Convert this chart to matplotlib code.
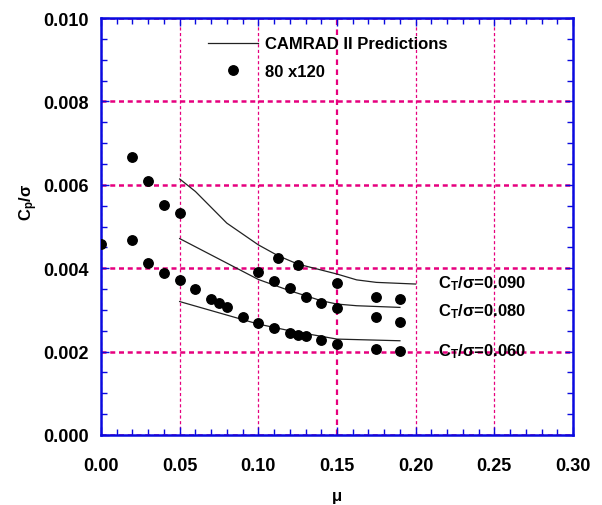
import matplotlib
matplotlib.use("Agg")
import matplotlib.pyplot as plt
from matplotlib.ticker import MultipleLocator

plt.rcParams['font.family'] = ['Liberation Sans', 'DejaVu Sans']
plt.rcParams['font.weight'] = 'bold'
plt.rcParams['mathtext.fontset'] = 'custom'
plt.rcParams['mathtext.rm'] = 'Liberation Sans:bold'
plt.rcParams['mathtext.it'] = 'Liberation Sans:bold'
plt.rcParams['mathtext.bf'] = 'Liberation Sans:bold'
plt.rcParams['mathtext.default'] = 'rm'

# Wind-tunnel measurements (80 x 120 ft), grouped by thrust level
mu_090 = [0.02, 0.03, 0.04, 0.05, 0.1125, 0.125, 0.15, 0.175, 0.19]
cp_090 = [0.00667, 0.00608, 0.00552, 0.00532, 0.00425, 0.00408, 0.00365, 0.00332, 0.00326]
mu_080 = [0.10, 0.11, 0.12, 0.13, 0.14, 0.15, 0.175, 0.19]
cp_080 = [0.00391, 0.00369, 0.00352, 0.00332, 0.00317, 0.00304, 0.00282, 0.00270]
mu_060 = [0.0, 0.02, 0.03, 0.04, 0.05, 0.06, 0.07, 0.075, 0.08, 0.09, 0.10,
          0.11, 0.12, 0.125, 0.13, 0.14, 0.15, 0.175, 0.19]
cp_060 = [0.00457, 0.00467, 0.00412, 0.00388, 0.00372, 0.00350, 0.00327, 0.00317,
          0.00306, 0.00284, 0.00269, 0.00257, 0.00244, 0.00240, 0.00237, 0.00227,
          0.00219, 0.00206, 0.00201]

# CAMRAD II predictions
pred_mu_090 = [0.05, 0.06, 0.08, 0.10, 0.1125, 0.125, 0.15, 0.1625, 0.175, 0.20]
pred_cp_090 = [0.00614, 0.00584, 0.00508, 0.00456, 0.00430, 0.00410, 0.00386, 0.00372, 0.00366, 0.00362]
pred_mu_080 = [0.05, 0.10, 0.12, 0.14, 0.15, 0.1625, 0.19]
pred_cp_080 = [0.00471, 0.00373, 0.00346, 0.00322, 0.00314, 0.00310, 0.00306]
pred_mu_060 = [0.05, 0.10, 0.12, 0.15, 0.19]
pred_cp_060 = [0.00320, 0.00266, 0.00250, 0.00230, 0.00226]

thrust_labels = ["C$_T$/σ=0.090", "C$_T$/σ=0.080", "C$_T$/σ=0.060"]
label_mu = [0.214, 0.214, 0.214]
label_cp = [0.00353, 0.00286, 0.00192]

x_ticks = [0.00, 0.05, 0.10, 0.15, 0.20, 0.25, 0.30]
y_ticks = [0.000, 0.002, 0.004, 0.006, 0.008, 0.010]

AXIS_BLUE = '#0a0ae0'
GRID_PINK = '#e6007e'

fig = plt.figure(figsize=(6.02, 5.06), dpi=100)
ax = fig.add_axes([101 / 602, 1 - 436 / 506, 472 / 602, 417 / 506])

line_kw = dict(color='#222222', lw=0.9)
ax.plot(pred_mu_090, pred_cp_090, label='CAMRAD II Predictions', **line_kw)
ax.plot(pred_mu_080, pred_cp_080, **line_kw)
ax.plot(pred_mu_060, pred_cp_060, **line_kw)

dot_kw = dict(ls='none', marker='o', color='black', ms=6.8, zorder=4)
ax.plot(mu_090, cp_090, label='80 x120', **dot_kw)
ax.plot(mu_080, cp_080, **dot_kw)
ax.plot(mu_060, cp_060, **dot_kw)

for txt, xm, ym in zip(thrust_labels, label_mu, label_cp):
    ax.text(xm, ym, txt, fontsize=12, fontweight='bold', va='baseline', ha='left', zorder=5)

ax.set_xlim(0, 0.30)
ax.set_ylim(0, 0.010)
ax.set_xticks(x_ticks)
ax.set_xticklabels([f"{v:.2f}" for v in x_ticks])
ax.set_yticks(y_ticks)
ax.set_yticklabels([f"{v:.3f}" for v in y_ticks])
ax.xaxis.set_minor_locator(MultipleLocator(0.01))
ax.yaxis.set_minor_locator(MultipleLocator(0.0005))

ax.tick_params(which='both', direction='in', top=True, right=True, color=AXIS_BLUE, width=1)
ax.tick_params(which='major', length=6)
ax.tick_params(which='minor', length=4)
ax.tick_params(axis='x', which='major', labelsize=13, pad=16)
ax.tick_params(axis='y', which='major', labelsize=13, pad=9)
for lbl in ax.get_xticklabels() + ax.get_yticklabels():
    lbl.set_fontweight('bold')

for sp in ax.spines.values():
    sp.set_color(AXIS_BLUE)
    sp.set_linewidth(1.8)

ax.grid(axis='x', which='major', color=GRID_PINK, lw=0.9, ls=(0, (2.5, 2)))
ax.grid(axis='y', which='major', color=GRID_PINK, lw=1.8, ls=(0, (2, 1.5)))
for val, gl in zip(x_ticks, ax.get_xgridlines()):
    if abs(val - 0.15) < 1e-9:
        gl.set_linewidth(1.6)
ax.set_axisbelow(True)

ax.set_xlabel('μ', fontsize=12, fontweight='bold', labelpad=10)
ax.set_ylabel('C$_p$/σ', fontsize=12, fontweight='bold')
ax.yaxis.set_label_coords(-0.13, 0.561)

leg = ax.legend(loc='upper left', bbox_to_anchor=(0.2267, 0.956), frameon=False,
                handlelength=3.0, handletextpad=0.4,
                labelspacing=0.73, borderpad=0, borderaxespad=0, numpoints=1,
                prop={'weight': 'bold', 'size': 12})

fig.savefig('out.png', dpi=100)
